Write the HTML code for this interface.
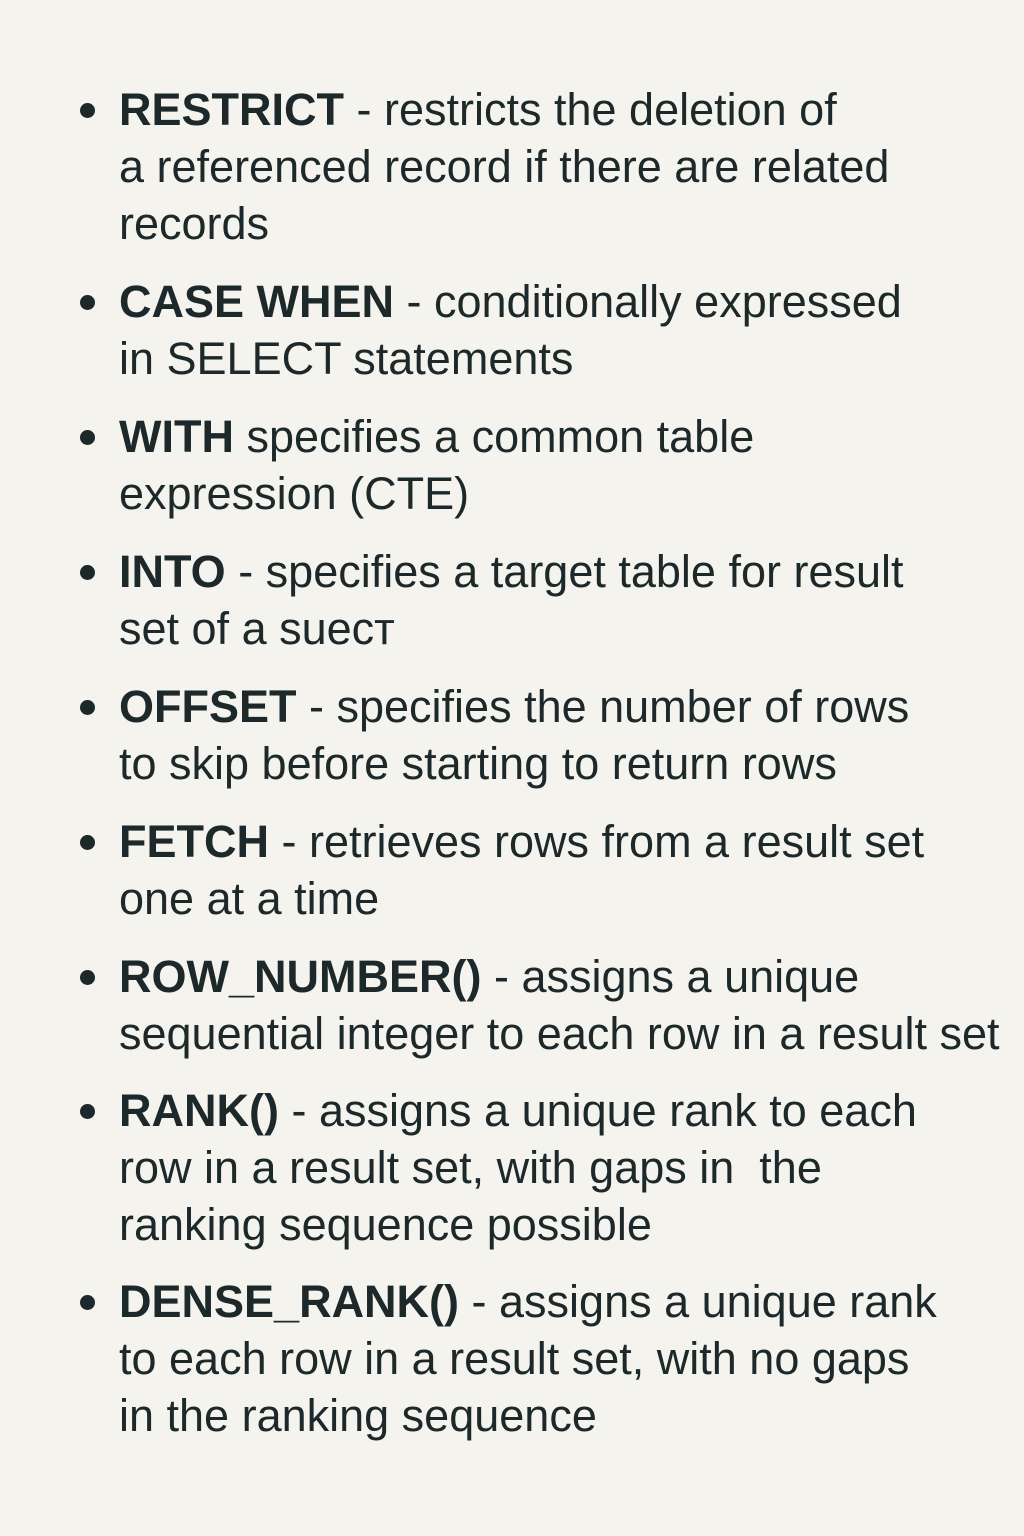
<!DOCTYPE html>
<html><head><meta charset="utf-8"><style>
html,body{margin:0;padding:0}
body{width:1024px;height:1536px;background:#f4f3ee;position:relative;overflow:hidden;font-family:"Liberation Sans",sans-serif;color:#1c2829}
.l{position:absolute;left:119px;font-size:45px;line-height:50px;white-space:nowrap;letter-spacing:0}
.l b{font-weight:bold}
.d{position:absolute;left:80px;width:15px;height:15px;border-radius:50%;background:#1c2829}
</style></head><body>
<div class="d" style="top:103px"></div>
<div class="l" style="top:85px"><b>RESTRICT</b> - restricts the deletion of</div>
<div class="l" style="top:142px">a referenced record if there are related</div>
<div class="l" style="top:199px">records</div>

<div class="d" style="top:295px"></div>
<div class="l" style="top:277px"><b>CASE WHEN</b> - conditionally expressed</div>
<div class="l" style="top:334px">in SELECT statements</div>

<div class="d" style="top:430px"></div>
<div class="l" style="top:412px"><b>WITH</b> specifies a common table</div>
<div class="l" style="top:469px">expression (CTE)</div>

<div class="d" style="top:565px"></div>
<div class="l" style="top:547px"><b>INTO</b> - specifies a target table for result</div>
<div class="l" style="top:604px">set of a suecт</div>

<div class="d" style="top:700px"></div>
<div class="l" style="top:682px"><b>OFFSET</b> - specifies the number of rows</div>
<div class="l" style="top:739px">to skip before starting to return rows</div>

<div class="d" style="top:835px"></div>
<div class="l" style="top:817px"><b>FETCH</b> - retrieves rows from a result set</div>
<div class="l" style="top:874px">one at a time</div>

<div class="d" style="top:970px"></div>
<div class="l" style="top:952px"><b>ROW_NUMBER()</b> - assigns a unique</div>
<div class="l" style="top:1009px">sequential integer to each row in a result set</div>

<div class="d" style="top:1104px"></div>
<div class="l" style="top:1086px"><b>RANK()</b> - assigns a unique rank to each</div>
<div class="l" style="top:1143px">row in a result set, with gaps in &nbsp;the</div>
<div class="l" style="top:1200px">ranking sequence possible</div>

<div class="d" style="top:1295px"></div>
<div class="l" style="top:1277px"><b>DENSE_RANK()</b> - assigns a unique rank</div>
<div class="l" style="top:1334px">to each row in a result set, with no gaps</div>
<div class="l" style="top:1391px">in the ranking sequence</div>
</body></html>
